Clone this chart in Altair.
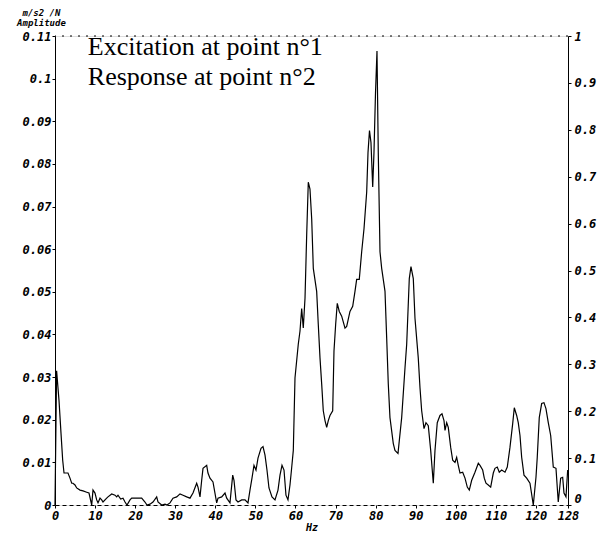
import altair as alt
import pandas as pd

# Frequency (Hz) and amplitude (m/s2 /N)
freq = [0.0, 0.4, 1.0, 1.5, 1.92, 2.25, 2.92, 3.24, 3.74, 4.17, 4.49, 4.99, 5.41, 6.24, 6.99, 7.91, 8.48,
        9.16, 9.48, 9.98, 10.4, 10.73, 11.23, 11.65, 11.98, 12.9, 13.22, 14.15, 14.97, 15.39, 15.72, 16.39,
        16.97, 17.47, 17.96, 18.71, 19.14, 19.96, 20.71, 21.63, 22.45, 22.95, 23.7, 24.45, 25.37, 25.7,
        26.62, 27.45, 27.94, 28.69, 29.44, 30.36, 31.19, 31.94, 32.86, 33.68, 34.43, 35.35, 35.68, 36.18,
        36.6, 36.93, 37.85, 38.17, 38.67, 39.42, 40.34, 40.67, 41.59, 42.42, 42.84, 43.66, 44.34, 44.66,
        45.16, 45.66, 46.58, 47.41, 48.15, 48.65, 49.15, 49.65, 50.15, 50.65, 51.4, 51.9, 52.4, 52.89,
        53.39, 54.14, 54.89, 55.64, 56.14, 56.64, 57.14, 57.63, 58.13, 58.63, 59.0, 59.46, 59.88, 60.7,
        61.13, 61.55, 61.95, 62.38, 62.8, 63.2, 63.62, 64.05, 64.45, 65.29, 65.69, 66.12, 66.54, 66.94,
        67.37, 67.79, 68.19, 68.61, 69.29, 69.61, 70.03, 70.43, 70.93, 71.53, 72.36, 72.78, 73.6, 74.28,
        74.85, 75.27, 75.92, 76.52, 77.1, 77.77, 78.1, 78.47, 78.84, 79.27, 79.59, 79.97, 80.34, 80.66,
        81.09, 81.51, 82.34, 82.76, 83.16, 83.58, 84.41, 84.83, 85.58, 86.5, 87.33, 87.75, 88.4, 88.82,
        89.4, 89.82, 90.64, 91.07, 91.49, 92.07, 92.56, 93.14, 93.74, 94.39, 94.81, 95.38, 96.06, 96.56,
        97.06, 97.31, 97.73, 98.13, 98.73, 99.23, 99.8, 100.22, 100.62, 101.05, 101.72, 102.3, 102.87,
        103.37, 103.97, 104.79, 105.62, 106.04, 106.71, 107.11, 107.54, 108.11, 108.71, 109.36, 109.78,
        110.35, 110.85, 111.45, 112.28, 112.85, 113.52, 114.2, 114.6, 115.19, 115.59, 116.02, 116.44,
        117.02, 117.69, 118.51, 119.34, 120.01, 120.33, 120.83, 121.43, 122.0, 122.5, 123.08, 123.68,
        124.33, 125.0, 125.57, 126.17, 126.67, 127.0, 127.5, 127.92]
amp = [0.0, 0.0315, 0.0245, 0.0168, 0.0105, 0.0075, 0.0075, 0.0075, 0.0063, 0.0051, 0.0051, 0.0047, 0.0040,
       0.0035, 0.0033, 0.0030, 0.0028, 0.0, 0.0035, 0.0028, 0.0012, 0.0005, 0.0016, 0.0012, 0.0007, 0.0016,
       0.0019, 0.0026, 0.0023, 0.0019, 0.0023, 0.0014, 0.0016, 0.0007, 0.0, 0.0012, 0.0016, 0.0016, 0.0016,
       0.0016, 0.0007, 0.0, 0.0002, 0.0007, 0.0019, 0.0007, 0.0, 0.0002, 0.0, 0.0005, 0.0016, 0.0019, 0.0026,
       0.0023, 0.0019, 0.0016, 0.0028, 0.0051, 0.0042, 0.0019, 0.0058, 0.0086, 0.0093, 0.0075, 0.0063,
       0.0054, 0.0005, 0.0016, 0.0019, 0.0028, 0.0016, 0.0005, 0.0070, 0.0058, 0.0012, 0.0007, 0.0012,
       0.0012, 0.0005, 0.0035, 0.0063, 0.0093, 0.0082, 0.0110, 0.0133, 0.0137, 0.0117, 0.0082, 0.0040,
       0.0019, 0.0012, 0.0035, 0.0070, 0.0093, 0.0082, 0.0023, 0.0012, 0.0047, 0.0082, 0.0128, 0.0298,
       0.0377, 0.0408, 0.0461, 0.0415, 0.0485, 0.0634, 0.0757, 0.0741, 0.0671, 0.0555, 0.0501, 0.0424,
       0.0345, 0.0284, 0.0221, 0.0198, 0.0182, 0.0198, 0.0210, 0.0221, 0.0361, 0.0424, 0.0473, 0.0454,
       0.0443, 0.0415, 0.0419, 0.0454, 0.0466, 0.0501, 0.0529, 0.0529, 0.0594, 0.0648, 0.0734, 0.0827,
       0.0878, 0.0850, 0.0746, 0.0827, 0.0967, 0.1065, 0.0827, 0.0594, 0.0555, 0.0501, 0.0391, 0.0284,
       0.0205, 0.0144, 0.0128, 0.0121, 0.0205, 0.0322, 0.0377, 0.0531, 0.0559, 0.0531, 0.0438, 0.0345,
       0.0275, 0.0221, 0.0179, 0.0193, 0.0186, 0.0128, 0.0051, 0.0128, 0.0193, 0.0210, 0.0214, 0.0198,
       0.0175, 0.0193, 0.0182, 0.0135, 0.0105, 0.0100, 0.0112, 0.0093, 0.0075, 0.0077, 0.0063, 0.0042,
       0.0035, 0.0058, 0.0077, 0.0098, 0.0093, 0.0082, 0.0063, 0.0051, 0.0047, 0.0042, 0.0075, 0.0086,
       0.0089, 0.0077, 0.0082, 0.0077, 0.0089, 0.0135, 0.0191, 0.0228, 0.0210, 0.0193, 0.0163, 0.0112,
       0.0070, 0.0063, 0.0051, 0.0, 0.0065, 0.0112, 0.0205, 0.0238, 0.0240, 0.0226, 0.0193, 0.0163,
       0.0089, 0.0086, 0.0007, 0.0063, 0.0065, 0.0028, 0.0019, 0.0082]

x_ticks = [0, 10, 20, 30, 40, 50, 60, 70, 80, 90, 100, 110, 120, 128]
y_ticks = [0, 0.01, 0.02, 0.03, 0.04, 0.05, 0.06, 0.07, 0.08, 0.09, 0.1, 0.11]
r_ticks = [0, 0.1, 0.2, 0.3, 0.4, 0.5, 0.6, 0.7, 0.8, 0.9, 1]

ann_freq = [8.2, 8.2]
ann_amp = [0.1055, 0.0985]
ann_text = ["Excitation at point n°1", "Response at point n°2"]

MONO = "DejaVu Sans Mono"

df = pd.DataFrame({"freq": freq, "amp": amp})
ann = pd.DataFrame({"freq": ann_freq, "amp": ann_amp, "label": ann_text})
top = pd.DataFrame({"amp": [max(y_ticks)]})
right = pd.DataFrame({"r": [min(r_ticks), max(r_ticks)]})

label_style = dict(labelFont=MONO, labelFontStyle="italic", labelFontWeight="bold",
                   labelFontSize=12, labelColor="black", tickColor="black",
                   domainColor="black", grid=False, labelOverlap=False, labelFlush=False)

x_enc = alt.X("freq:Q", scale=alt.Scale(domain=[0, 128], nice=False, zero=False),
              axis=alt.Axis(values=x_ticks, title="Hz", tickSize=3, labelPadding=2,
                            domainDash=[4, 3], titleFont=MONO, titleFontStyle="italic",
                            titleFontWeight="bold", titleFontSize=10, titlePadding=1,
                            titleColor="black", **label_style))
y_enc = alt.Y("amp:Q", scale=alt.Scale(domain=[0, 0.11], nice=False),
              axis=alt.Axis(values=y_ticks, format=".2~f", tickSize=3, labelPadding=1,
                            title=["m/s2 /N", "Amplitude"], titleAngle=0, titleAlign="center",
                            titleBaseline="top", titleX=-14, titleY=-28,
                            titleFont=MONO, titleFontStyle="italic", titleFontWeight="bold",
                            titleFontSize=9, titleLineHeight=10, titleColor="black",
                            **label_style))

line = alt.Chart(df).mark_line(color="black", strokeWidth=1.2).encode(x=x_enc, y=y_enc)
frame_top = alt.Chart(top).mark_rule(color="black", strokeDash=[2, 6], strokeWidth=1).encode(y=y_enc)
text = alt.Chart(ann).mark_text(align="left", baseline="alphabetic", font="Liberation Serif",
                                fontSize=26, color="black").encode(x=x_enc, y=y_enc, text="label:N")

left = alt.layer(frame_top, line, text)

right_layer = alt.Chart(right).mark_point(opacity=0).encode(
    y=alt.Y("r:Q", scale=alt.Scale(domain=[0, 1], nice=False),
            axis=alt.Axis(orient="right", values=r_ticks, format=".1~f", title=None,
                          tickSize=3, labelPadding=3,
                          labelBaseline={"condition": {"test": "datum.value < 0.05", "value": "bottom"},
                                         "value": "middle"},
                          **label_style)))

chart = alt.layer(left, right_layer).resolve_scale(y="independent").properties(
    width=513, height=469,
    autosize=alt.AutoSizeParams(type="none"),
    padding={"left": 47, "top": 28, "right": 36, "bottom": 31},
).configure_view(stroke=None).configure(background="white")

chart.save("out.html", embed_options={"renderer": "svg", "actions": False})
